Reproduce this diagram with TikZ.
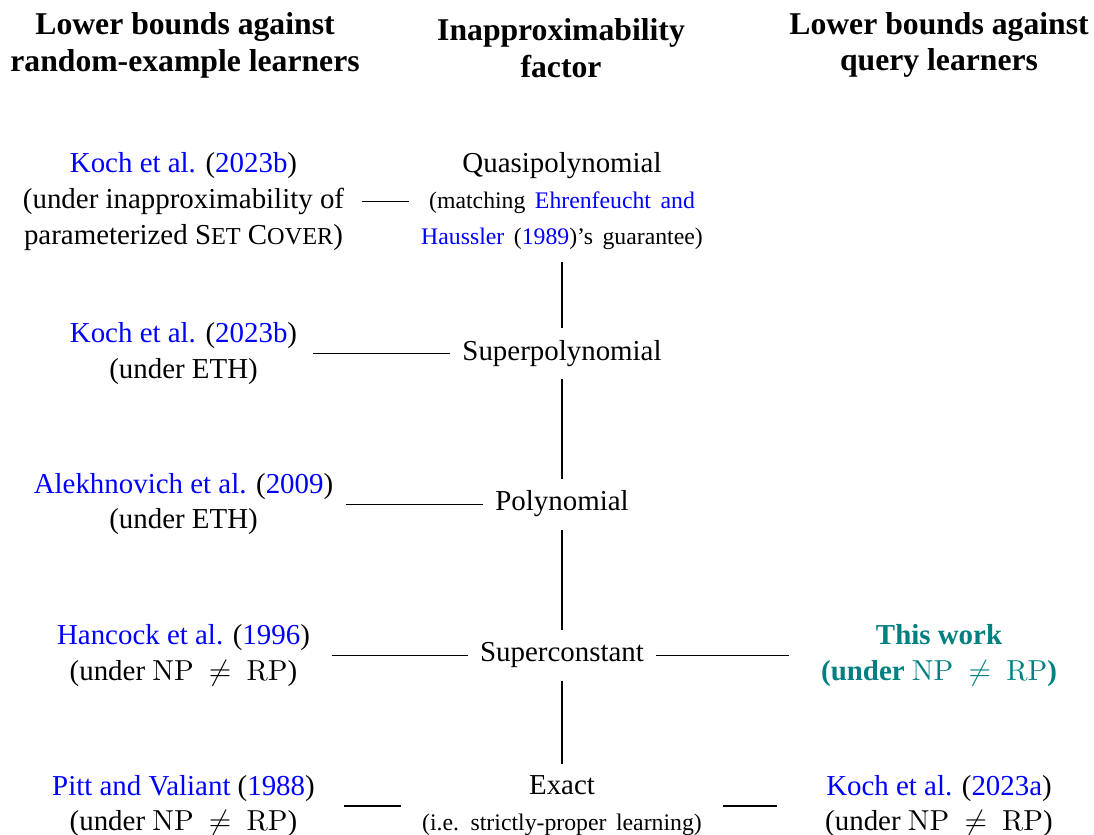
\documentclass[tikz,border=0pt,11pt]{standalone}
\usepackage[no-math]{fontspec}
\setmainfont{Liberation Serif}
\usepackage{xcolor}

\newcommand{\bluecite}[1]{\textcolor{blue}{#1}}
\newcommand{\fakesc}[1]{{\fontsize{9.2pt}{10pt}\selectfont #1}}
\newcommand{\notefont}{\footnotesize\spaceskip=3.6pt plus 1pt minus 1pt\relax}
\newcommand{\npnotrp}{$\mathrm{NP}\ \neq\ \mathrm{RP}$}

\begin{document}
\begin{tikzpicture}

    \tikzstyle{header} = [align=center, font=\large\bfseries, inner sep=4.5pt]
    \tikzstyle{ref} = [align=center, inner sep=4.5pt]
    \tikzstyle{level} = [inner sep=4.5pt, text height=7.5pt, text depth=2.4pt]
    \tikzstyle{levelnote} = [align=center, inner sep=4.5pt]

    \useasboundingbox (0,0) rectangle (14.564,-11.116);

    % column headers
    \node (hdrleft) [header] at (2.463,-0.598) {Lower bounds against\\ random-example learners};
    \node (hdrmid) [header] at (7.469,-0.637) {Inapproximability\\ factor};
    \node (hdrright) [header] at (12.501,-0.598) {Lower bounds against\\ query learners};

    % inapproximability factors
    \node (quasi) [levelnote] at (7.482,-2.679) {Quasipolynomial\\ {\notefont (matching \bluecite{Ehrenfeucht and}}\\ {\notefont \bluecite{Haussler} (\bluecite{1989})'s guarantee)}};
    \node (superpoly) [level] at (7.482,-4.703) {Superpolynomial};
    \node (poly) [level] at (7.482,-6.71) {Polynomial};
    \node (supercon) [level] at (7.482,-8.723) {Superconstant};
    \node (exact) [levelnote] at (7.482,-10.73) {Exact\\ {\notefont (i.e. strictly-proper learning)}};

    % random-example learners
    \node (kochb1) [ref] at (2.443,-2.679) {\bluecite{Koch et al.} (\bluecite{2023b})\\ (under inapproximability of\\ parameterized S\fakesc{ET} C\fakesc{OVER})};
    \node (kochb2) [ref] at (2.443,-4.703) {\bluecite{Koch et al.} (\bluecite{2023b})\\ (under ETH)};
    \node (alek) [ref] at (2.443,-6.71) {\bluecite{Alekhnovich et al.} (\bluecite{2009})\\ (under ETH)};
    \node (hancock) [ref] at (2.443,-8.723) {\bluecite{Hancock et al.} (\bluecite{1996})\\ (under \npnotrp)};
    \node (pitt) [ref] at (2.443,-10.73) {\bluecite{Pitt and Valiant} (\bluecite{1988})\\ (under \npnotrp)};

    % query learners
    \node (thiswork) [ref, font=\bfseries, text=teal] at (12.501,-8.723) {This work\\ (under \npnotrp)};
    \node (kocha) [ref] at (12.501,-10.73) {\bluecite{Koch et al.} (\bluecite{2023a})\\ (under \npnotrp)};

    \draw (quasi) -- (superpoly);
    \draw (superpoly) -- (poly);
    \draw (poly) -- (supercon);
    \draw (supercon) -- (exact);

    \draw [shorten <=2pt] (kochb1) -- (quasi);
    \draw [shorten <=1.5pt] (kochb2) -- (superpoly);
    \draw (alek) -- (poly);
    \draw [shorten <=3.5pt] (hancock) -- (supercon);
    \draw [shorten <=6.5pt, shorten >=3.4pt] (pitt) -- (exact);

    \draw [shorten >=7.6pt] (supercon) -- (thiswork);
    \draw [shorten <=3.4pt, shorten >=13.5pt] (exact) -- (kocha);

\end{tikzpicture}
\end{document}
